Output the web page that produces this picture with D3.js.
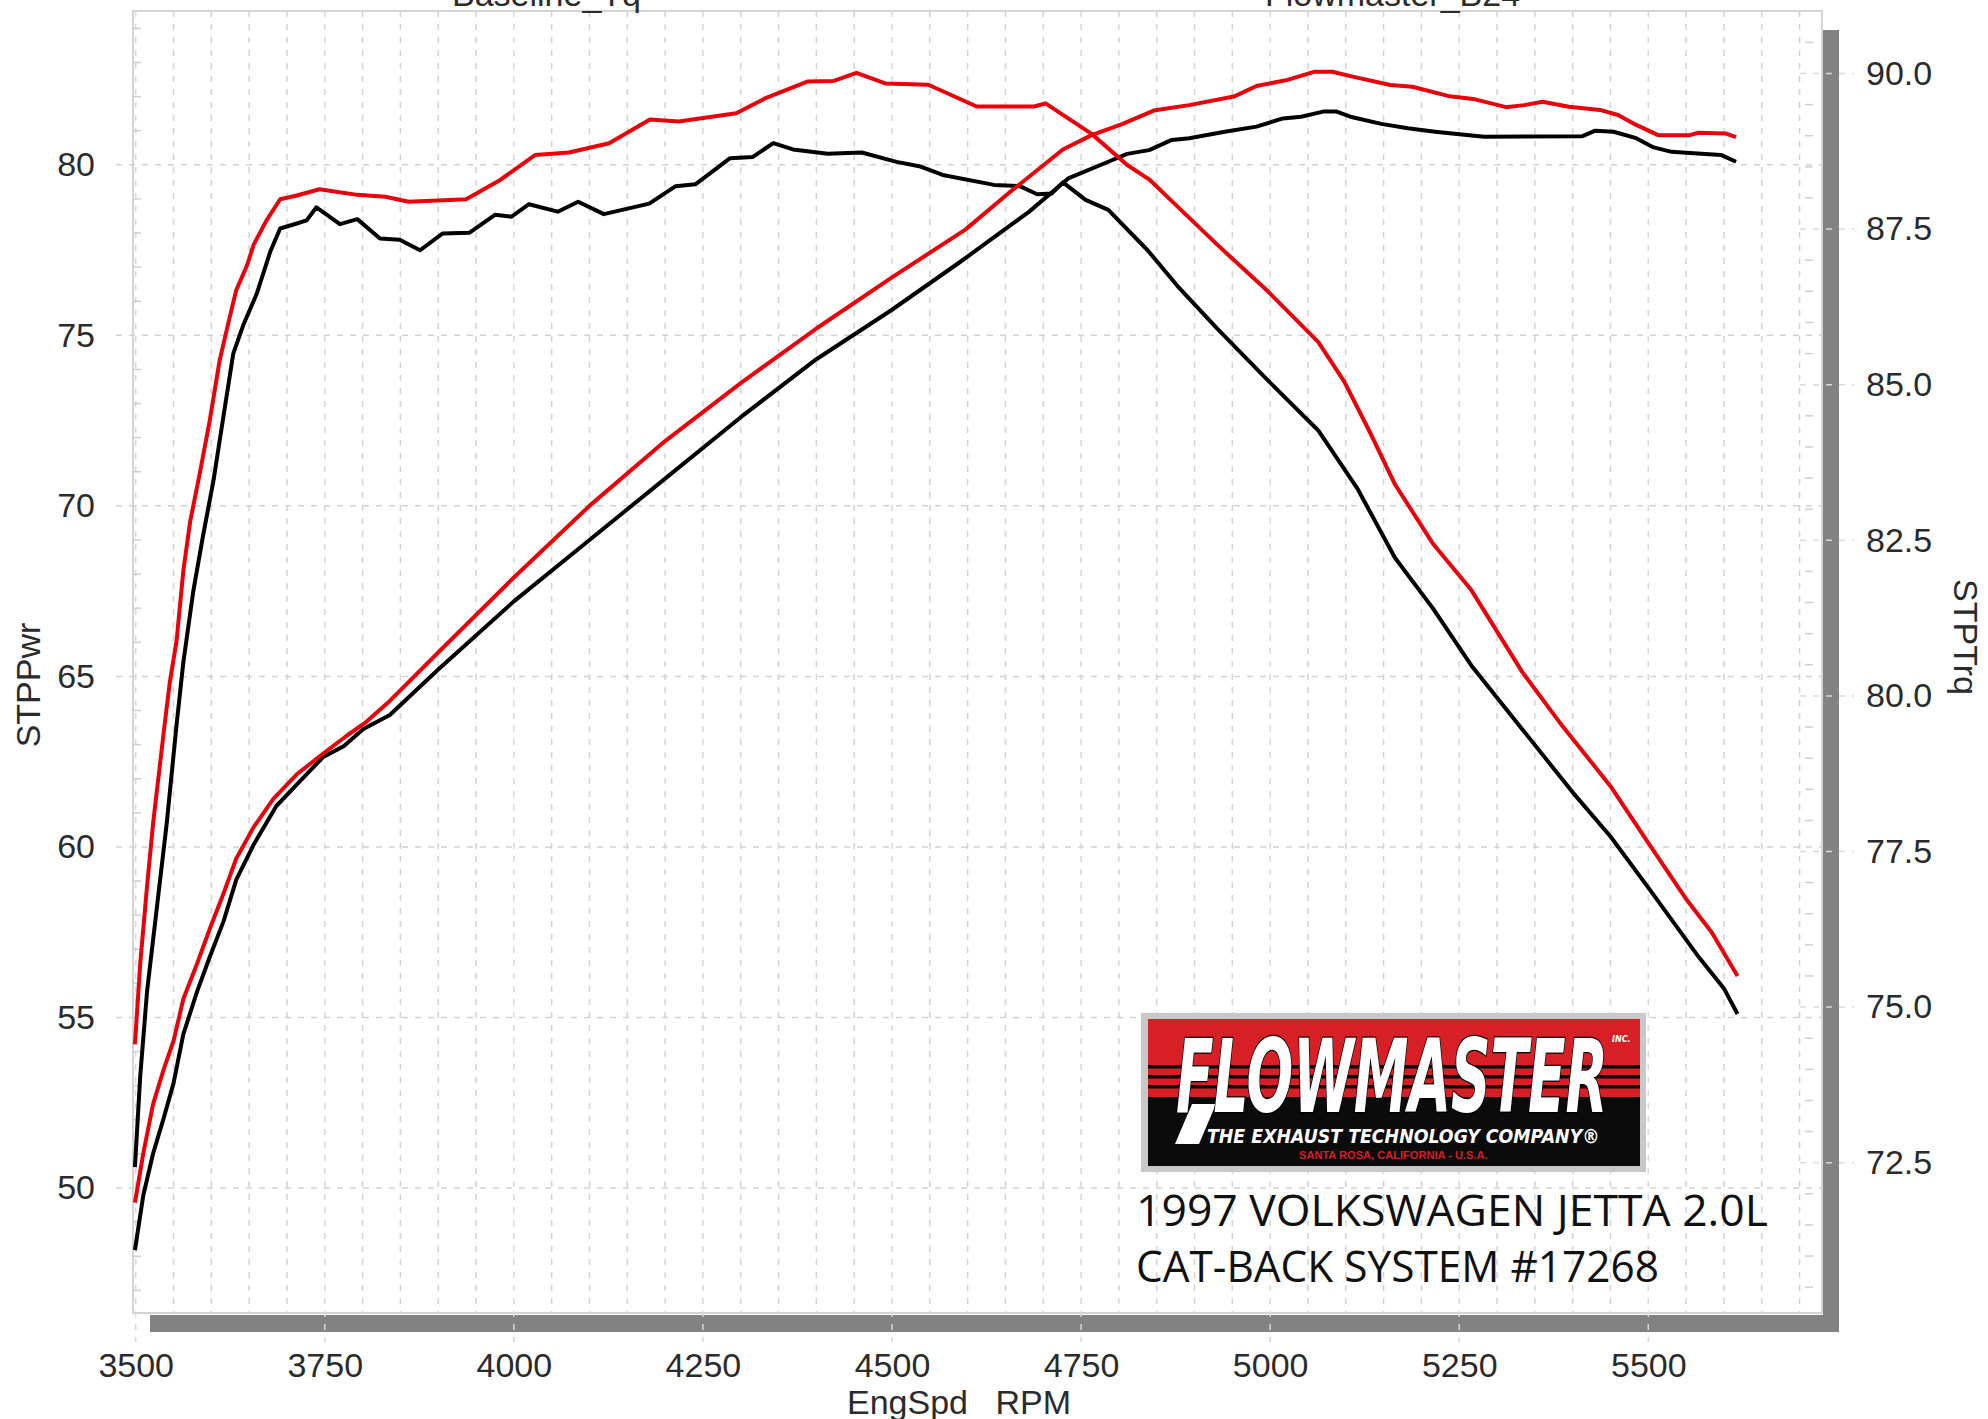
<!DOCTYPE html>
<html>
<head>
<meta charset="utf-8">
<title>1997 VW Jetta 2.0L dyno</title>
<script src="https://cdn.jsdelivr.net/npm/d3@7"></script>
<style>
	html, body { margin: 0; padding: 0; background: #fff; overflow: hidden; }
	svg { display: block; }
	.lbl { font-family: "Liberation Sans", Arial, sans-serif; font-size: 34px; fill: #2b2b2b; }
	.note { font-family: "Open Sans", "Noto Sans", sans-serif; font-size: 44px; fill: #111; }
	.logo { font-family: "DejaVu Sans", "Liberation Sans", sans-serif; font-weight: bold; font-style: italic; }
</style>
</head>
<body>
<div id="chart"></div>
<script>
// ---- values ----

// baseline torque (black), right axis
var baseTqRpm = [ 3499, 3506, 3515, 3528, 3541, 3554, 3563, 3576, 3589, 3603, 3616, 3629, 3642, 3660, 3678, 3691, 3713, 3726, 3739, 3770, 3793, 3823, 3849, 3876, 3906, 3941, 3975, 3997, 4020, 4058, 4085, 4119, 4179, 4214, 4240, 4286, 4316, 4343, 4369, 4415, 4460, 4506, 4536, 4567, 4635, 4669, 4692, 4711, 4726, 4756, 4786, 4838, 4880, 4930, 4997, 5064, 5115, 5165, 5215, 5266, 5333, 5400, 5450, 5500, 5567, 5600, 5618 ];
var baseTqVal = [ 72.43, 73.89, 75.25, 76.60, 77.95, 79.53, 80.54, 81.67, 82.57, 83.47, 84.49, 85.50, 85.95, 86.46, 87.14, 87.51, 87.59, 87.64, 87.85, 87.58, 87.66, 87.35, 87.33, 87.16, 87.43, 87.44, 87.73, 87.70, 87.90, 87.78, 87.94, 87.74, 87.91, 88.19, 88.22, 88.64, 88.66, 88.88, 88.78, 88.71, 88.73, 88.58, 88.51, 88.37, 88.21, 88.19, 88.06, 88.07, 88.25, 87.97, 87.81, 87.16, 86.55, 85.90, 85.07, 84.26, 83.34, 82.22, 81.41, 80.49, 79.47, 78.45, 77.74, 76.92, 75.80, 75.30, 74.89 ];

// flowmaster torque (red), right axis
var flowTqRpm = [ 3499, 3506, 3515, 3523, 3537, 3545, 3554, 3563, 3572, 3585, 3598, 3611, 3624, 3633, 3647, 3656, 3673, 3691, 3713, 3743, 3793, 3830, 3861, 3937, 3982, 4028, 4073, 4126, 4180, 4218, 4294, 4332, 4388, 4423, 4453, 4491, 4548, 4612, 4688, 4703, 4764, 4811, 4840, 4870, 4930, 4997, 5064, 5098, 5131, 5165, 5215, 5266, 5333, 5383, 5450, 5500, 5551, 5584, 5618 ];
var flowTqVal = [ 74.40, 75.70, 76.94, 77.95, 79.41, 80.21, 80.88, 82.01, 82.80, 83.59, 84.43, 85.39, 86.07, 86.52, 86.91, 87.25, 87.64, 87.98, 88.04, 88.14, 88.05, 88.02, 87.94, 87.98, 88.29, 88.69, 88.73, 88.88, 89.26, 89.23, 89.36, 89.60, 89.87, 89.88, 90.01, 89.84, 89.82, 89.47, 89.47, 89.52, 89.03, 88.53, 88.30, 87.95, 87.25, 86.50, 85.68, 85.05, 84.26, 83.40, 82.45, 81.70, 80.39, 79.57, 78.55, 77.64, 76.72, 76.20, 75.50 ];

// baseline power (black), left axis
var basePwrRpm = [ 3499, 3510, 3523, 3537, 3550, 3563, 3581, 3598, 3616, 3633, 3656, 3686, 3717, 3748, 3775, 3801, 3836, 3900, 4000, 4100, 4200, 4300, 4400, 4500, 4590, 4681, 4733, 4786, 4811, 4840, 4870, 4893, 4940, 4982, 5017, 5041, 5070, 5088, 5106, 5147, 5182, 5218, 5247, 5283, 5413, 5430, 5454, 5484, 5507, 5531, 5560, 5596, 5616 ];
var basePwrVal = [ 48.18, 49.78, 51.01, 52.05, 53.07, 54.51, 55.75, 56.78, 57.81, 59.04, 60.07, 61.20, 61.92, 62.64, 62.95, 63.46, 63.87, 65.20, 67.20, 69.00, 70.80, 72.60, 74.30, 75.75, 77.15, 78.62, 79.60, 80.09, 80.32, 80.43, 80.73, 80.78, 80.97, 81.12, 81.36, 81.41, 81.56, 81.56, 81.41, 81.20, 81.07, 80.97, 80.90, 80.82, 80.84, 81.00, 80.97, 80.78, 80.51, 80.38, 80.34, 80.29, 80.09 ];

// flowmaster power (red), left axis
var flowPwrRpm = [ 3499, 3510, 3523, 3537, 3550, 3563, 3581, 3598, 3616, 3633, 3656, 3682, 3713, 3748, 3779, 3805, 3836, 3900, 4000, 4100, 4200, 4300, 4400, 4500, 4597, 4656, 4726, 4764, 4805, 4846, 4893, 4952, 4982, 5023, 5059, 5082, 5112, 5159, 5188, 5235, 5271, 5312, 5336, 5360, 5395, 5436, 5460, 5484, 5513, 5555, 5566, 5602, 5616 ];
var flowPwrVal = [ 49.57, 51.01, 52.46, 53.48, 54.31, 55.54, 56.57, 57.60, 58.63, 59.66, 60.58, 61.41, 62.13, 62.74, 63.26, 63.67, 64.28, 65.70, 67.90, 70.00, 71.90, 73.60, 75.20, 76.70, 78.10, 79.20, 80.45, 80.87, 81.20, 81.59, 81.75, 82.00, 82.31, 82.49, 82.73, 82.73, 82.57, 82.34, 82.29, 82.02, 81.92, 81.69, 81.75, 81.85, 81.70, 81.61, 81.46, 81.17, 80.87, 80.87, 80.94, 80.92, 80.81 ];

// tick labels
var xTicks = [ 3500, 3750, 4000, 4250, 4500, 4750, 5000, 5250, 5500 ];
var pwrTicks = [ 50, 55, 60, 65, 70, 75, 80 ];
var trqTicks = [ 72.5, 75, 77.5, 80, 82.5, 85, 87.5, 90 ];

// texts
var seriesNames = [ "Baseline_Tq", "Flowmaster_B24" ];
var axisTitles = { x: [ "EngSpd", "RPM" ], left: "STPPwr", right: "STPTrq" };
var noteLines = [ "1997 VOLKSWAGEN JETTA 2.0L", "CAT-BACK SYSTEM #17268" ];

// ---- layout ----
var W = 1988,
	H = 1419,
	plot = { left: 133, top: 11, right: 1822, bottom: 1313 };

var svg = d3.select( "#chart" ).append( "svg" )
	.attr( "width", W )
	.attr( "height", H );

// scales
var x = d3.scaleLinear().domain( [ 3500, 5500 ] ).range( [ 135.7, 1648.3 ] ),
	yPwr = d3.scaleLinear().domain( [ 50, 80 ] ).range( [ 1188, 164.8 ] ),
	yTrq = d3.scaleLinear().domain( [ 72.5, 90 ] ).range( [ 1162.7, 73.5 ] );

// squeeze a text horizontally to a given width (keeps its real bbox)
function fitText( sel, x0, y0, width ) {
	var w = sel.node().getComputedTextLength();
	sel.attr( "transform", "translate(" + x0 + "," + y0 + ") scale(" + ( width / w ) + ",1)" );
}

// grey "shadow" bars on the right and bottom
svg.append( "rect" )
	.attr( "x", plot.right + 1 ).attr( "y", 30 )
	.attr( "width", 16 ).attr( "height", 1332 - 30 )
	.attr( "fill", "#828282" );
svg.append( "rect" )
	.attr( "x", 150 ).attr( "y", plot.bottom + 2 )
	.attr( "width", 1839 - 150 ).attr( "height", 17 )
	.attr( "fill", "#828282" );

// plot frame
svg.append( "rect" )
	.attr( "x", plot.left ).attr( "y", plot.top )
	.attr( "width", plot.right - plot.left ).attr( "height", plot.bottom - plot.top )
	.attr( "fill", "#fff" )
	.attr( "stroke", "#d4d4d4" )
	.attr( "stroke-width", 2 );

var grid = svg.append( "g" )
	.attr( "stroke", "#d2d2d2" )
	.attr( "stroke-width", 1.5 )
	.attr( "stroke-dasharray", "6,7" );

// vertical grid every 50 rpm, majors run through the bar
grid.selectAll( ".vgrid" )
	.data( d3.range( 3500, 5701, 50 ) )
	.enter().append( "line" )
	.attr( "x1", function ( d ) { return x( d ); } )
	.attr( "x2", function ( d ) { return x( d ); } )
	.attr( "y1", plot.top )
	.attr( "y2", function ( d ) { return d % 250 === 0 && d <= 5500 ? 1342 : plot.bottom; } )
	.attr( "stroke", function ( d ) { return d % 250 === 0 ? "#d8d8d8" : null; } );

// horizontal grid on the power majors
grid.selectAll( ".hgrid" )
	.data( pwrTicks )
	.enter().append( "line" )
	.attr( "x1", 116 )
	.attr( "x2", plot.right )
	.attr( "y1", function ( d ) { return yPwr( d ); } )
	.attr( "y2", function ( d ) { return yPwr( d ); } );

// right axis major ticks across the bar
grid.selectAll( ".rtick" )
	.data( trqTicks )
	.enter().append( "line" )
	.attr( "x1", 1800 )
	.attr( "x2", 1854 )
	.attr( "y1", function ( d ) { return yTrq( d ); } )
	.attr( "y2", function ( d ) { return yTrq( d ); } )
	.attr( "stroke", "#dadada" );

// minor ticks, left every 1, right every 0.5
svg.append( "g" ).selectAll( "line" )
	.data( d3.range( 47, 85 ).filter( function ( d ) { return d % 5 !== 0; } ) )
	.enter().append( "line" )
	.attr( "x1", plot.left ).attr( "x2", plot.left + 8 )
	.attr( "y1", function ( d ) { return yPwr( d ); } )
	.attr( "y2", function ( d ) { return yPwr( d ); } )
	.attr( "stroke", "#cfcfcf" ).attr( "stroke-width", 1.5 );

svg.append( "g" ).selectAll( "line" )
	.data( d3.range( 70.5, 91, 0.5 ).filter( function ( d ) { return d % 2.5 !== 0; } ) )
	.enter().append( "line" )
	.attr( "x1", 1805 ).attr( "x2", 1813 )
	.attr( "y1", function ( d ) { return yTrq( d ); } )
	.attr( "y2", function ( d ) { return yTrq( d ); } )
	.attr( "stroke", "#cfcfcf" ).attr( "stroke-width", 1.5 );

// ---- axes (labels only) ----
function plainAxis( sel ) {
	sel.select( ".domain" ).remove();
	sel.selectAll( ".tick line" ).remove();
	sel.selectAll( ".tick text" ).attr( "class", "lbl" ).attr( "fill", null );
	sel.attr( "font-family", null ).attr( "font-size", null );
}

svg.append( "g" )
	.attr( "transform", "translate(0," + plot.bottom + ")" )
	.call( d3.axisBottom( x ).tickValues( xTicks ).tickSize( 0 ).tickPadding( 40 ).tickFormat( d3.format( "d" ) ) )
	.call( plainAxis );

svg.append( "g" )
	.attr( "transform", "translate(" + plot.left + ",0)" )
	.call( d3.axisLeft( yPwr ).tickValues( pwrTicks ).tickSize( 0 ).tickPadding( 38 ) )
	.call( plainAxis );

svg.append( "g" )
	.attr( "transform", "translate(" + plot.right + ",0)" )
	.call( d3.axisRight( yTrq ).tickValues( trqTicks ).tickSize( 0 ).tickPadding( 44 ).tickFormat( d3.format( ".1f" ) ) )
	.call( plainAxis );

// axis titles
svg.append( "text" ).attr( "class", "lbl" )
	.attr( "x", 847 ).attr( "y", 1414 )
	.text( axisTitles.x[ 0 ] );
svg.append( "text" ).attr( "class", "lbl" )
	.attr( "x", 1071 ).attr( "y", 1414 )
	.attr( "text-anchor", "end" )
	.text( axisTitles.x[ 1 ] );
svg.append( "text" ).attr( "class", "lbl" )
	.attr( "transform", "translate(40,685) rotate(-90)" )
	.attr( "text-anchor", "middle" )
	.text( axisTitles.left );
svg.append( "text" ).attr( "class", "lbl" )
	.attr( "transform", "translate(1954,637) rotate(90)" )
	.attr( "text-anchor", "middle" )
	.text( axisTitles.right );

// legend names, mostly cut off at the top edge (as on the sheet)
svg.append( "text" ).attr( "class", "lbl" ).attr( "x", 452 ).attr( "y", 6 ).text( seriesNames[ 0 ] );
svg.append( "text" ).attr( "class", "lbl" ).attr( "x", 1265 ).attr( "y", 6 ).text( seriesNames[ 1 ] );

// ---- curves ----
svg.append( "clipPath" ).attr( "id", "clip" )
	.append( "rect" )
	.attr( "x", plot.left ).attr( "y", plot.top )
	.attr( "width", plot.right - plot.left ).attr( "height", plot.bottom - plot.top );

function pairs( rpm, val ) {
	return d3.zip( rpm, val ).map( function ( p ) { return { rpm: p[ 0 ], v: p[ 1 ] }; } );
}

var series = [
	{ data: pairs( baseTqRpm, baseTqVal ), y: yTrq, color: "#000" },
	{ data: pairs( basePwrRpm, basePwrVal ), y: yPwr, color: "#000" },
	{ data: pairs( flowTqRpm, flowTqVal ), y: yTrq, color: "#e8000b" },
	{ data: pairs( flowPwrRpm, flowPwrVal ), y: yPwr, color: "#e8000b" }
];

var curves = svg.append( "g" ).attr( "clip-path", "url(#clip)" );

series.forEach( function ( s ) {
	var line = d3.line()
		.x( function ( d ) { return x( d.rpm ); } )
		.y( function ( d ) { return s.y( d.v ); } );

	curves.append( "path" )
		.datum( s.data )
		.attr( "fill", "none" )
		.attr( "stroke", s.color )
		.attr( "stroke-width", 4 )
		.attr( "stroke-linejoin", "round" )
		.attr( "d", line );
} );

// ---- flowmaster badge ----
var logo = svg.append( "g" );

logo.append( "rect" ).attr( "x", 1141 ).attr( "y", 1013 ).attr( "width", 505 ).attr( "height", 159 ).attr( "fill", "#c8c8c8" );
logo.append( "rect" ).attr( "x", 1148 ).attr( "y", 1019 ).attr( "width", 492 ).attr( "height", 147 ).attr( "fill", "#0b0b0b" );
logo.append( "rect" ).attr( "x", 1148 ).attr( "y", 1019 ).attr( "width", 492 ).attr( "height", 78 ).attr( "fill", "#d71f26" );
[ 1065, 1075, 1085 ].forEach( function ( yy ) {
	logo.append( "rect" ).attr( "x", 1148 ).attr( "y", yy ).attr( "width", 492 ).attr( "height", 3.5 ).attr( "fill", "#0b0b0b" );
} );

// tail of the big F
logo.append( "polygon" )
	.attr( "points", "1192,1104 1216,1104 1199,1144 1175,1144" )
	.attr( "fill", "#fff" );

logo.append( "text" ).attr( "class", "logo" )
	.attr( "font-size", 102 )
	.attr( "fill", "#fff" )
	.attr( "stroke", "#000" )
	.attr( "stroke-width", 2.5 )
	.attr( "paint-order", "stroke" )
	.text( "FLOWMASTER" )
	.call( fitText, 1176, 1112, 432 );

logo.append( "text" ).attr( "class", "logo" )
	.attr( "x", 1612 ).attr( "y", 1042 )
	.attr( "font-size", 8 )
	.attr( "fill", "#fff" )
	.text( "INC." );

logo.append( "text" ).attr( "class", "logo" )
	.attr( "font-size", 19 )
	.attr( "fill", "#fff" )
	.text( "THE EXHAUST TECHNOLOGY COMPANY\u00ae" )
	.call( fitText, 1207, 1143, 393 );

logo.append( "text" )
	.attr( "font-family", "Liberation Sans, Arial, sans-serif" )
	.attr( "font-weight", "bold" )
	.attr( "font-size", 10 )
	.attr( "fill", "#d71f26" )
	.text( "SANTA ROSA, CALIFORNIA - U.S.A." )
	.call( fitText, 1299, 1159, 189 );

// car / part caption
svg.selectAll( ".note" )
	.data( noteLines )
	.enter().append( "text" )
	.attr( "class", "note" )
	.text( function ( d ) { return d; } )
	.each( function ( d, i ) {
		d3.select( this ).call( fitText, 1136, 1226 + i * 56, i === 0 ? 632 : 523 );
	} );
</script>
</body>
</html>
